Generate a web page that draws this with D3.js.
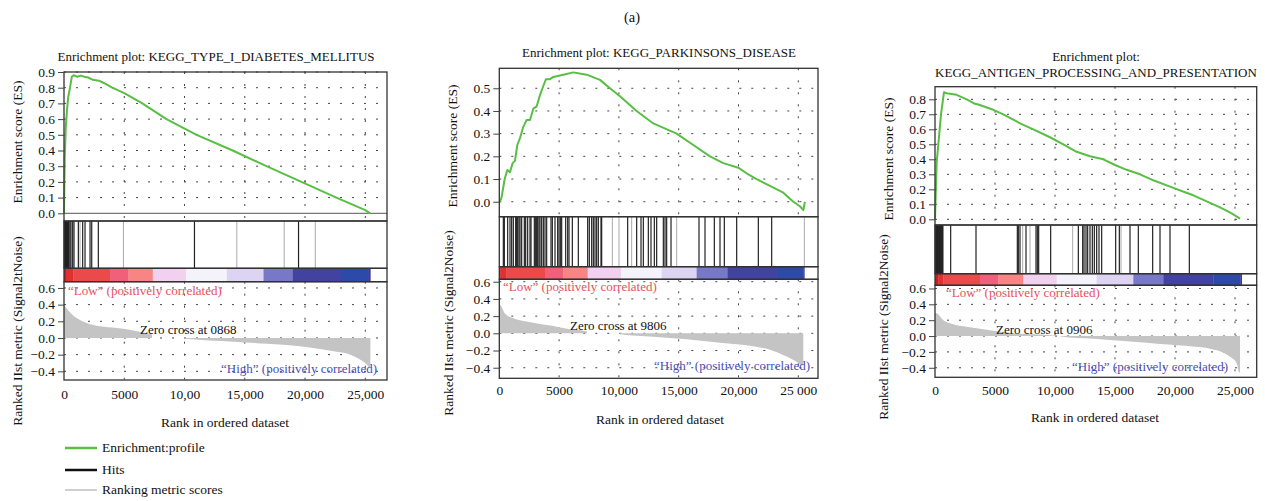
<!DOCTYPE html>
<html><head><meta charset="utf-8">
<script src="https://cdn.jsdelivr.net/npm/d3@7"></script>
<style>
body{margin:0;background:#fff;}
svg{display:block;}
text{font-family:"Liberation Serif","Times New Roman",serif;fill:#111;}
</style>
</head><body>
<svg id="chart" width="1265" height="501"></svg>
<script>
// ---------------- DATA ----------------
const figureLabel = "(a)";
const titles = [
  ["Enrichment plot: KEGG_TYPE_I_DIABETES_MELLITUS"],
  ["Enrichment plot: KEGG_PARKINSONS_DISEASE"],
  ["Enrichment plot:", "KEGG_ANTIGEN_PROCESSING_AND_PRESENTATION"]
];
const metricAxisTitles = [
  "Ranked IIst metric (Signal2tNoise)",
  "Ranked IIst metric (Signal2Noise)",
  "Ranked IIst metric (Signal2Noise)"
];
const esAxisTitle = "Enrichment score (ES)";
const xAxisTitle = "Rank in ordered dataset";
const zeroCrossLabels = ["Zero cross at 0868", "Zero cross at 9806", "Zero cross at 0906"];
const lowLabel = "\u201CLow\u201D (positively correlated)";
const highLabel = "\u201CHigh\u201D (positively correlated)";
const legendLabels = ["Enrichment:profile", "Hits", "Ranking metric scores"];

const xTickValues = [0, 5000, 10000, 15000, 20000, 25000];
const p1XTickLabels = ["0", "5000", "10,00", "15,000", "20,000", "25,000"];
const p2XTickLabels = ["0", "5000", "10,000", "15,000", "20,000", "25 000"];
const p3XTickLabels = ["0", "5000", "10,000", "15,000", "20,000", "25,000"];
const p1EsTicks = [0, 0.1, 0.2, 0.3, 0.4, 0.5, 0.6, 0.7, 0.8, 0.9];
const p2EsTicks = [0, 0.1, 0.2, 0.3, 0.4, 0.5];
const p3EsTicks = [0, 0.1, 0.2, 0.3, 0.4, 0.5, 0.6, 0.7, 0.8];
const metricTicks = [-0.4, -0.2, 0, 0.2, 0.4, 0.6];

// running enrichment score [rank, ES]
const p1ES = [[0,0],[60,0.35],[150,0.55],[250,0.66],[350,0.74],[500,0.80],[650,0.87],[800,0.88],[1100,0.87],[1400,0.877],[1700,0.87],[2000,0.865],[2400,0.85],[2900,0.845],[3300,0.83],[4000,0.80],[5000,0.765],[6500,0.70],[8500,0.60],[11000,0.50],[14000,0.40],[16800,0.30],[19700,0.20],[22600,0.10],[25000,0.02],[25400,0.0]];
const p2ES = [[0,0],[56,0.0],[195,0.02],[450,0.10],[669,0.14],[892,0.13],[1115,0.17],[1310,0.18],[1505,0.25],[1728,0.28],[2006,0.33],[2285,0.36],[2564,0.36],[2843,0.41],[3121,0.42],[3400,0.47],[3679,0.51],[3902,0.54],[4236,0.54],[4515,0.55],[5351,0.56],[6187,0.57],[7302,0.56],[8417,0.537],[9253,0.50],[10089,0.465],[11482,0.40],[12876,0.345],[14827,0.30],[16220,0.25],[17614,0.20],[18729,0.17],[19983,0.15],[20819,0.12],[21516,0.10],[22630,0.07],[23745,0.04],[24581,0.0],[25139,-0.02],[25417,-0.037],[25556,0.0]];
const p3ES = [[0,0],[139,0.38],[278,0.5],[500,0.7],[750,0.847],[972,0.84],[1806,0.83],[2639,0.80],[3333,0.77],[3611,0.765],[4861,0.73],[5694,0.70],[7083,0.64],[8194,0.60],[9583,0.547],[10694,0.50],[11806,0.45],[12917,0.42],[14028,0.40],[15000,0.362],[15972,0.33],[17083,0.30],[18194,0.26],[19583,0.218],[20833,0.18],[21528,0.16],[22639,0.12],[23750,0.08],[24722,0.04],[25417,0.005]];

// ranked list metric [rank, value]
const p1Metric = [[0,0.40],[300,0.34],[1052,0.24],[1883,0.18],[2990,0.14],[4375,0.12],[5760,0.09],[6590,0.064],[7283,0.044],[7320,0],[10052,0],[10100,-0.01],[14067,-0.044],[16836,-0.07],[19606,-0.10],[22375,-0.16],[23760,-0.20],[24590,-0.26],[25143,-0.32],[25365,-0.36],[25420,-0.36]];
const p2Metric = [[0,0.33],[56,0.33],[474,0.23],[1171,0.175],[2285,0.136],[3400,0.109],[4515,0.085],[5908,0.047],[7302,0.023],[7330,0],[10060,0],[10089,-0.012],[12876,-0.04],[15663,-0.07],[18450,-0.11],[21237,-0.15],[22630,-0.19],[24024,-0.27],[24860,-0.33],[25362,-0.37],[25417,-0.37]];
const p3Metric = [[0,0.29],[83,0.29],[694,0.2],[1528,0.15],[2639,0.117],[3750,0.092],[4861,0.067],[6250,0.042],[7639,0.025],[9861,0.008],[10417,0],[10500,-0.004],[13194,-0.033],[15972,-0.067],[18750,-0.10],[21528,-0.133],[22917,-0.16],[24028,-0.21],[24583,-0.26],[25139,-0.34],[25361,-0.46],[25417,-0.46]];

// hit ranks
const p1Hits = [10,50,90,130,170,210,250,290,330,370,410,500,580,720,830,1190,1550,1745,2160,2300,2850,10825,19460];
const p1HitsFaint = [1330,4930,14340,18270,20850];
const p2Hits = [337,421,700,895,1034,1173,1368,1452,1536,1647,1731,1870,2093,2205,2372,2567,2651,2929,3041,3125,3208,3319,3403,3542,3682,3821,3961,4323,4434,4657,4880,4992,5103,5215,5549,5717,5828,6106,6608,7389,7528,7723,7862,8002,8141,8280,8503,8559,10733,11486,11848,12043,12461,12684,12963,13158,13715,13855,13994,14357,16697,17199,17979,18453,18815,19847,21658,22773];
const p2HitsFaint = [9451,10008,11067,14830,25504];
const p3Hits = [10,60,110,160,210,260,310,360,410,460,510,560,610,660,1306,3417,6861,6944,7083,7583,8417,8528,8639,9639,11944,12306,12417,12583,12722,12917,13111,13278,13472,13667,13889,15056,15361,16250,16944,18139,18750,19583,21194];
const p3HitsFaint = [7306,7917,11472,15500];

// colour bar (rank boundaries) and colours
const barColors = ["#c81e1e","#e03030","#ea4a4a","#f0607a","#f88484","#f2d0f0","#f4f2fa","#dcd4f2","#7878c8","#4242a0","#2e4aa8","#4030a0"];
const p1BarBreaks = [0,166,775,3820,5345,7365,10133,13510,16555,18990,23060,25275,25415];
const p2BarBreaks = [0,100,600,3821,5354,7389,10176,13576,16502,19094,23191,25420,25504];
const p3BarBreaks = [0,278,694,3750,5278,7361,10139,13472,16528,19028,23194,25450,25556];

// ---------------- LAYOUT ----------------
const GREEN = "#58bf44", GRAY = "#c3c4c3", BORDER = "#333";
const RED_TXT = "#e8505c", BLUE_TXT = "#4a4fb2";

const panels = [
  {title: titles[0], titleY: [61], titleX: 216,
   left: 64, right: 387, xMax: 26800,
   esTop: 72, esBottom: 221, esDomain: [-0.049, 0.9], esTicks: p1EsTicks, es: p1ES, esZeroSolid: true,
   hitsBottom: 268.3, barBottom: 281.7, metricBottom: 380, metricDomain: [-0.504, 0.675],
   metric: p1Metric, hits: p1Hits, hitsFaint: p1HitsFaint, barBreaks: p1BarBreaks,
   xLabels: p1XTickLabels, xPad: 9, xTitleY: 427, xTitleX: 225,
   esLabelX: 17, esLabelY: 142, mLabelX: 17, mLabelY: 331, mTitle: metricAxisTitles[0],
   lowXY: [68, 295], zeroXY: [140, 334], highEndXY: [377, 373], zeroText: zeroCrossLabels[0]},
  {title: titles[1], titleY: [57], titleX: 659,
   left: 499.3, right: 818, xMax: 26647,
   esTop: 68.3, esBottom: 216.7, esDomain: [-0.066, 0.588], esTicks: p2EsTicks, es: p2ES, esZeroSolid: false,
   hitsBottom: 266.7, barBottom: 279.3, metricBottom: 378.3, metricDomain: [-0.523, 0.628],
   metric: p2Metric, hits: p2Hits, hitsFaint: p2HitsFaint, barBreaks: p2BarBreaks,
   xLabels: p2XTickLabels, xPad: 7, xTitleY: 424, xTitleX: 660,
   esLabelX: 452, esLabelY: 146, mLabelX: 448, mLabelY: 323, mTitle: metricAxisTitles[1],
   lowXY: [503, 291], zeroXY: [570, 330], highEndXY: [810, 370], zeroText: zeroCrossLabels[1]},
  {title: titles[2], titleY: [61, 77], titleX: 1096,
   left: 935, right: 1256.7, xMax: 26808,
   esTop: 86.7, esBottom: 225, esDomain: [-0.038, 0.884], esTicks: p3EsTicks, es: p3ES, esZeroSolid: false,
   hitsBottom: 273.7, barBottom: 285.3, metricBottom: 377.3, metricDomain: [-0.52, 0.64],
   metric: p3Metric, hits: p3Hits, hitsFaint: p3HitsFaint, barBreaks: p3BarBreaks,
   xLabels: p3XTickLabels, xPad: 8, xTitleY: 422, xTitleX: 1095,
   esLabelX: 888, esLabelY: 159, mLabelX: 883, mLabelY: 327, mTitle: metricAxisTitles[2],
   lowXY: [946, 297], zeroXY: [996, 334], highEndXY: [1228, 371], zeroText: zeroCrossLabels[2]}
];

const svg = d3.select("#chart");
svg.append("text").attr("x", 632).attr("y", 22).attr("text-anchor", "middle")
  .attr("font-size", 14.5).text(figureLabel);

const FS_TITLE = 13, FS_TICK = 13.5, FS_ANN = 13, FS_AXIS = 13.5;

function drawPanel(p) {
  const g = svg.append("g");
  const x = d3.scaleLinear().domain([0, p.xMax]).range([p.left, p.right]);
  const yEs = d3.scaleLinear().domain(p.esDomain).range([p.esBottom, p.esTop]);
  const yM = d3.scaleLinear().domain(p.metricDomain).range([p.metricBottom, p.barBottom]);
  const W = p.right - p.left;

  p.title.forEach((t, i) => g.append("text").attr("x", p.titleX).attr("y", p.titleY[i])
    .attr("text-anchor", "middle").attr("font-size", FS_TITLE).text(t));

  const gridAttrs = sel => sel.attr("stroke", "#444").attr("stroke-width", 1).attr("stroke-dasharray", "2,10");
  p.esTicks.forEach(v => {
    if (v === 0 && p.esZeroSolid) return;
    g.append("line").attr("x1", p.left).attr("x2", p.right).attr("y1", yEs(v)).attr("y2", yEs(v)).call(gridAttrs);
  });
  metricTicks.forEach(v => {
    g.append("line").attr("x1", p.left).attr("x2", p.right).attr("y1", yM(v)).attr("y2", yM(v)).call(gridAttrs);
  });
  xTickValues.slice(1).forEach(v => {
    g.append("line").attr("x1", x(v)).attr("x2", x(v)).attr("y1", p.esTop).attr("y2", p.esBottom).call(gridAttrs);
    g.append("line").attr("x1", x(v)).attr("x2", x(v)).attr("y1", p.barBottom).attr("y2", p.metricBottom).call(gridAttrs);
  });
  if (p.esZeroSolid) {
    g.append("line").attr("x1", p.left).attr("x2", p.right).attr("y1", yEs(0)).attr("y2", yEs(0))
      .attr("stroke", "#555").attr("stroke-width", 1);
  }

  const area = d3.area().x(d => x(d[0])).y0(yM(0)).y1(d => yM(d[1])).curve(d3.curveMonotoneX);
  g.append("path").datum(p.metric).attr("d", area).attr("fill", GRAY).attr("stroke", "none");

  const line = d3.line().x(d => x(d[0])).y(d => yEs(d[1])).curve(d3.curveLinear);
  g.append("path").datum(p.es).attr("d", line).attr("fill", "none")
    .attr("stroke", GREEN).attr("stroke-width", 2).attr("stroke-linejoin", "round");

  g.selectAll(null).data(p.hitsFaint).join("line")
    .attr("x1", d => x(d)).attr("x2", d => x(d)).attr("y1", p.esBottom).attr("y2", p.hitsBottom)
    .attr("stroke", "#aaa").attr("stroke-width", 1);
  g.selectAll(null).data(p.hits).join("line")
    .attr("x1", d => x(d)).attr("x2", d => x(d)).attr("y1", p.esBottom).attr("y2", p.hitsBottom)
    .attr("stroke", "#222").attr("stroke-width", 1.2);

  const segs = barColors.map((c, i) => ({a: p.barBreaks[i], b: p.barBreaks[i + 1], c}));
  g.selectAll(null).data(segs).join("rect")
    .attr("x", d => x(d.a)).attr("width", d => x(d.b) - x(d.a) + 0.3)
    .attr("y", p.hitsBottom).attr("height", p.barBottom - p.hitsBottom)
    .attr("fill", d => d.c);

  const bx = sel => sel.attr("fill", "none").attr("stroke", BORDER).attr("stroke-width", 1.3);
  g.append("rect").attr("x", p.left).attr("y", p.esTop).attr("width", W).attr("height", p.esBottom - p.esTop).call(bx);
  g.append("rect").attr("x", p.left).attr("y", p.esBottom).attr("width", W).attr("height", p.hitsBottom - p.esBottom).call(bx);
  g.append("rect").attr("x", p.left).attr("y", p.hitsBottom).attr("width", W).attr("height", p.barBottom - p.hitsBottom).call(bx);
  g.append("rect").attr("x", p.left).attr("y", p.barBottom).attr("width", W).attr("height", p.metricBottom - p.barBottom).call(bx);

  const esAxis = d3.axisLeft(yEs).tickValues(p.esTicks).tickFormat(d3.format(".1f")).tickSize(6).tickPadding(3);
  const ga = g.append("g").attr("transform", `translate(${p.left},0)`).call(esAxis);
  const mAxis = d3.axisLeft(yM).tickValues(metricTicks).tickFormat(d3.format(".1f")).tickSize(6).tickPadding(3);
  const gm = g.append("g").attr("transform", `translate(${p.left},0)`).call(mAxis);
  const xAxis = d3.axisBottom(x).tickValues(xTickValues).tickFormat((d, i) => p.xLabels[i]).tickSize(0).tickPadding(p.xPad);
  const gx = g.append("g").attr("transform", `translate(0,${p.metricBottom})`).call(xAxis);
  [ga, gm, gx].forEach(a => {
    a.select(".domain").remove();
    a.selectAll("text").attr("font-size", FS_TICK).attr("font-family", "Liberation Serif, serif").attr("fill", "#111");
    a.selectAll("line").attr("stroke", "#444");
  });

  g.append("text").attr("transform", `translate(${p.esLabelX},${p.esLabelY}) rotate(-90)`)
    .attr("text-anchor", "middle").attr("dy", "0.35em").attr("font-size", FS_AXIS).text(esAxisTitle);
  g.append("text").attr("transform", `translate(${p.mLabelX},${p.mLabelY}) rotate(-90)`)
    .attr("text-anchor", "middle").attr("dy", "0.35em").attr("font-size", FS_AXIS).text(p.mTitle);
  g.append("text").attr("x", p.xTitleX).attr("y", p.xTitleY).attr("text-anchor", "middle")
    .attr("font-size", FS_AXIS).text(xAxisTitle);

  g.append("text").attr("x", p.lowXY[0]).attr("y", p.lowXY[1]).attr("font-size", FS_ANN)
    .style("fill", RED_TXT).text(lowLabel);
  g.append("text").attr("x", p.zeroXY[0]).attr("y", p.zeroXY[1]).attr("font-size", FS_ANN)
    .style("fill", "#111").text(p.zeroText);
  g.append("text").attr("x", p.highEndXY[0]).attr("y", p.highEndXY[1]).attr("font-size", FS_ANN)
    .attr("text-anchor", "end").style("fill", BLUE_TXT).text(highLabel);
}

panels.forEach(drawPanel);

const legColors = [GREEN, "#111", "#cfcfcf"];
const legWidths = [2.5, 2.5, 2];
const legY = [448, 470, 490];
legendLabels.forEach((t, i) => {
  svg.append("line").attr("x1", 65).attr("x2", 97).attr("y1", legY[i]).attr("y2", legY[i])
    .attr("stroke", legColors[i]).attr("stroke-width", legWidths[i]);
  svg.append("text").attr("x", 102).attr("y", legY[i] + 4).attr("font-size", 13.5).text(t);
});
</script>
</body></html>
